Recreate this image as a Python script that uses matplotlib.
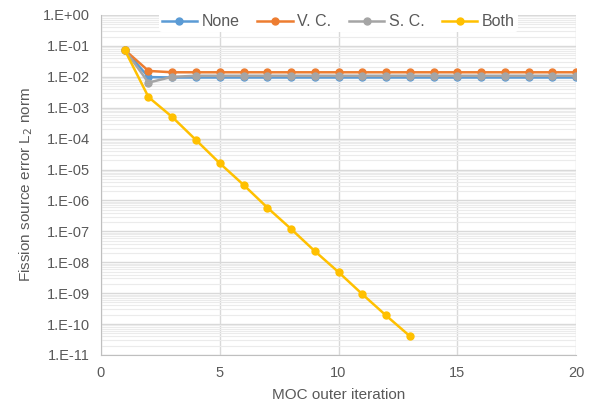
import numpy as np
import matplotlib.pyplot as plt
from matplotlib.ticker import LogLocator, FixedLocator, FuncFormatter

plt.rcParams['font.family'] = ['Liberation Sans', 'DejaVu Sans']

iters = list(range(1, 21))
err_none = [7.4e-2, 9.8e-3] + [9.5e-3] * 18
err_vc = [7.4e-2, 1.55e-2] + [1.4e-2] * 18
err_sc = [7.4e-2, 6.5e-3, 1.0e-2] + [1.08e-2] * 17
iters_both = list(range(1, 14))
err_both = [7.4e-2, 2.2e-3, 5.0e-4, 9.0e-5, 1.6e-5, 3.2e-6, 5.9e-7,
            1.2e-7, 2.3e-8, 4.8e-9, 9.3e-10, 1.9e-10, 4.1e-11]

txt = '#595959'
fig = plt.figure(figsize=(5.92, 4.05), dpi=100)
ax = fig.add_axes([0.1706, 0.1235, 0.8024, 0.8395])

ax.plot(iters, err_none, '-o', color='#5B9BD5', ms=5, lw=1.8, label='None')
ax.plot(iters, err_vc, '-o', color='#ED7D31', ms=5, lw=1.8, label='V. C.')
ax.plot(iters, err_sc, '-o', color='#A5A5A5', ms=5, lw=1.8, label='S. C.')
ax.plot(iters_both, err_both, '-o', color='#FFC000', ms=5, lw=1.8, label='Both')

ax.set_yscale('log')
ax.set_ylim(1e-11, 1)
ax.set_xlim(0, 20)
ax.xaxis.set_major_locator(FixedLocator([0, 5, 10, 15, 20]))
ax.yaxis.set_major_locator(LogLocator(base=10, numticks=20))
ax.yaxis.set_minor_locator(LogLocator(base=10, subs=np.arange(2, 10), numticks=20))
ax.yaxis.set_minor_formatter(FuncFormatter(lambda v, p: ''))
ax.yaxis.set_major_formatter(FuncFormatter(
    lambda v, p: '1.E{:+03d}'.format(int(round(np.log10(v))))))

ax.grid(True, which='major', color='#D9D9D9', lw=1)
ax.grid(True, which='minor', axis='y', color='#EBEBEB', lw=0.8)
ax.set_axisbelow(True)
for s in ['top', 'right']:
    ax.spines[s].set_visible(False)
for s in ['left', 'bottom']:
    ax.spines[s].set_color('#BFBFBF')
ax.tick_params(which='both', length=0, colors=txt, labelsize=10.5, pad=8)

ax.set_xlabel('MOC outer iteration', color=txt, fontsize=11, labelpad=6)
ax.set_ylabel('Fission source error L$_2$ norm', color=txt, fontsize=11, labelpad=6)

leg = ax.legend(loc='upper center', bbox_to_anchor=(0.5, 1.035), ncol=4,
                frameon=True, fontsize=11.5, handlelength=2.2, columnspacing=1.1,
                handletextpad=0.3, borderpad=0.2)
leg.get_frame().set_facecolor('white')
leg.get_frame().set_edgecolor('none')
leg.get_frame().set_alpha(1)
for t in leg.get_texts():
    t.set_color(txt)

fig.savefig('out.png', dpi=100)
